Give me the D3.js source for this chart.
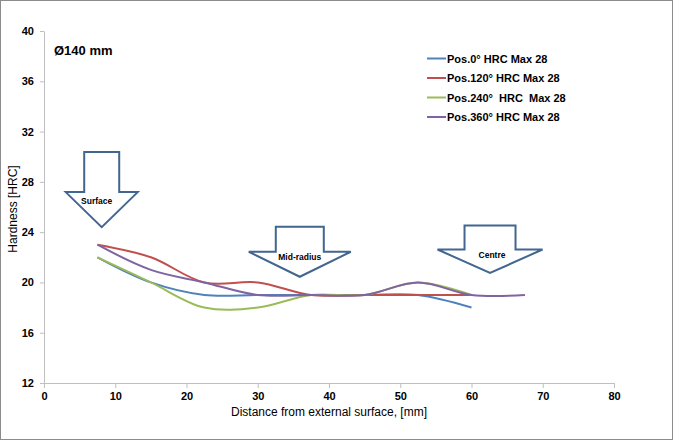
<!DOCTYPE html>
<html><head><meta charset="utf-8">
<script src="https://d3js.org/d3.v7.min.js"></script>
<style>
body{margin:0;background:#fff;}
text{font-family:"Liberation Sans",Arial,sans-serif;}
</style></head>
<body>
<svg width="673" height="440"></svg>
<script>
// data
const distance = [7.5, 15, 22.5, 30, 37.5, 45, 52.5, 60, 67.5];
const pos0   = [22, 20, 19, 19, 19, 19, 19, 18];
const pos120 = [23, 22, 20, 20, 19, 19, 19, 19];
const pos240 = [22, 20, 18, 18, 19, 19, 20, 19];
const pos360 = [23, 21, 20, 19, 19, 19, 20, 19, 19];
const seriesNames = ["Pos.0° HRC Max 28", "Pos.120° HRC Max 28", "Pos.240°  HRC  Max 28", "Pos.360° HRC Max 28"];
const seriesColors = ["#4F81BD", "#C0504D", "#9BBB59", "#8064A2"];
const xTicks = [0, 10, 20, 30, 40, 50, 60, 70, 80];
const yTicks = [12, 16, 20, 24, 28, 32, 36, 40];
// annotation arrows: label, centre x (mm), tip (HRC)
const arrows = [["Surface", 8.1, 24.4], ["Mid-radius", 35.9, 20.45], ["Centre", 62.6, 20.75]];

const svg = d3.select("svg");
svg.append("rect").attr("x",0.5).attr("y",0.5).attr("width",672).attr("height",439)
  .attr("fill","#fff").attr("stroke","#8c8c8c");

const x = d3.scaleLinear().domain([0,80]).range([44,614]);
const y = d3.scaleLinear().domain([12,40]).range([383,31]);

// axes
const gx = svg.append("g").attr("transform","translate(0,383)")
  .call(d3.axisBottom(x).tickValues(xTicks).tickSize(5).tickSizeOuter(0).tickPadding(4));
const gy = svg.append("g").attr("transform","translate(44,0)")
  .call(d3.axisLeft(y).tickValues(yTicks).tickSize(4).tickSizeOuter(0).tickPadding(6));
[gx, gy].forEach(g => {
  g.select(".domain").attr("stroke","#bfbfbf");
  g.selectAll(".tick line").attr("stroke","#bfbfbf");
  g.selectAll(".tick text").attr("fill","#000").attr("font-size","11px")
    .attr("font-weight","bold").attr("font-family","'Liberation Sans',Arial,sans-serif");
});

svg.append("text").attr("x",329).attr("y",416).attr("text-anchor","middle")
  .attr("font-size","12px").text("Distance from external surface, [mm]");
svg.append("text").attr("transform","translate(17,209) rotate(-90)").attr("text-anchor","middle")
  .attr("font-size","12px").text("Hardness [HRC]");

svg.append("text").attr("x",54).attr("y",55).attr("font-size","13px").attr("font-weight","bold")
  .text("Ø140 mm");

// arrows
const arrowSize = {"Surface":[17.5,36,35,40], "Mid-radius":[24,51,25,25], "Centre":[25.5,52.5,23.5,24]};
arrows.forEach(([label, ax, ay]) => {
  const [sw, hw, hh, sh] = arrowSize[label];
  const cx = x(ax), ty = y(ay), hy = ty - hh, top = hy - sh;
  const pts = [[cx-sw,top],[cx+sw,top],[cx+sw,hy],[cx+hw,hy],[cx,ty],[cx-hw,hy],[cx-sw,hy]];
  svg.append("path").attr("d", d3.line()(pts) + "Z")
    .attr("fill","#fff").attr("stroke","#41668F").attr("stroke-width",2);
  svg.append("text").attr("x",cx - (label==="Surface"?5:0) + (label==="Centre"?2:0))
    .attr("y",hy + (label==="Surface"?12:8)).attr("text-anchor","middle")
    .attr("font-size","8.5px").attr("font-weight","bold").attr("font-family","'DejaVu Sans',sans-serif")
    .text(label);
});

// series
const series = [pos0, pos120, pos240, pos360];
const line = d3.line().x((d,i)=>x(distance[i])).y(d=>y(d)).curve(d3.curveCatmullRom.alpha(0.5));
series.forEach((s,k) => {
  svg.append("path").attr("d", line(s)).attr("fill","none")
    .attr("stroke", seriesColors[k]).attr("stroke-width",2);
});

// legend
const leg = svg.append("g");
seriesNames.forEach((n,k) => {
  const ly = 58.5 + k*19.5;
  leg.append("line").attr("x1",427).attr("x2",446).attr("y1",ly).attr("y2",ly)
    .attr("stroke",seriesColors[k]).attr("stroke-width",2);
  leg.append("text").attr("x",447).attr("y",ly+4).attr("font-size","11px")
    .attr("font-weight","bold").style("white-space","pre").text(n);
});
</script>
</body></html>
